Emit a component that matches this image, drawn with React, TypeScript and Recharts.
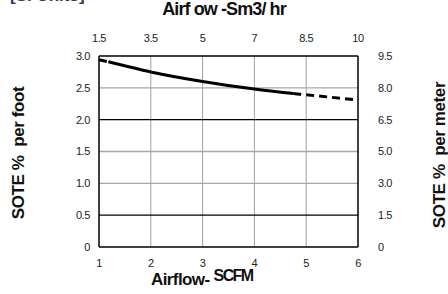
import React from 'react'
import { LineChart, Line, XAxis, YAxis, ReferenceLine } from 'recharts'

const airflowScfm = [1, 1.18, 2, 3, 4, 4.75, 5, 6]
const soteSolid = [null, 2.91, 2.75, 2.6, 2.48, 2.41, null, null]
const soteDashed = [2.94, 2.91, null, null, null, 2.41, 2.39, 2.31]

const bottomTicks = [1, 2, 3, 4, 5, 6]
const topTickLabels = ['1.5', '3.5', '5', '7', '8.5', '10']
const leftTicks = [0, 0.5, 1, 1.5, 2, 2.5, 3]
const leftTickLabels = ['0', '0.5', '1.0', '1.5', '2.0', '2.5', '3.0']
const rightTickLabels = ['0', '1.5', '3.0', '5.0', '6.5', '8.0', '9.5']
const grayRows = [1, 1.5, 2.5]
const blackRows = [0.5, 2]

const data = airflowScfm.map((x, i) => ({ x, solid: soteSolid[i], dashed: soteDashed[i] }))

const font = '"Liberation Sans", Arial, sans-serif'
const tickStyle = { fontSize: 11, fill: '#222', fontFamily: font, letterSpacing: -0.4 }
const titleStyle: React.CSSProperties = { position: 'absolute', whiteSpace: 'nowrap', fontWeight: 'bold', color: '#111' }

const App: React.FC = () => {
  return (
    <div style={{ position: 'absolute', left: 0, top: 0, width: 448, height: 294, overflow: 'hidden', fontFamily: font }}>
      <div style={{ position: 'absolute', left: 10, top: -14, fontSize: 17, fontWeight: 'bold', color: '#2d3e50' }}>
        [SI Units]
      </div>
      <div style={{ ...titleStyle, left: 0, width: 448, top: -1, textAlign: 'center', fontSize: 18, letterSpacing: -0.9 }}>
        Airf ow -Sm3/ hr
      </div>
      <LineChart width={448} height={294} data={data} margin={{ top: 0, right: 0, left: 0, bottom: 0 }}>
        {bottomTicks.slice(1, -1).map((v) => (
          <ReferenceLine key={'v' + v} xAxisId="bottom" yAxisId="left" x={v} stroke="#a0a0a0" strokeWidth={1} />
        ))}
        {grayRows.map((v) => (
          <ReferenceLine key={'g' + v} xAxisId="bottom" yAxisId="left" y={v} stroke="#a8a8a8" strokeWidth={1.3} />
        ))}
        {blackRows.map((v) => (
          <ReferenceLine key={'b' + v} xAxisId="bottom" yAxisId="left" y={v} stroke="#000" strokeWidth={1.2} />
        ))}
        <XAxis
          xAxisId="bottom"
          dataKey="x"
          type="number"
          domain={[1, 6]}
          ticks={bottomTicks}
          height={47}
          tickSize={0}
          tickMargin={12}
          tickLine={false}
          axisLine={{ stroke: '#000', strokeWidth: 1.5 }}
          tick={tickStyle}
        />
        <XAxis
          xAxisId="top"
          orientation="top"
          dataKey="x"
          type="number"
          domain={[1, 6]}
          ticks={bottomTicks}
          tickFormatter={(v: number) => topTickLabels[bottomTicks.indexOf(v)]}
          height={56}
          tickSize={0}
          tickMargin={14}
          tickLine={false}
          axisLine={{ stroke: '#000', strokeWidth: 1.5 }}
          tick={tickStyle}
        />
        <YAxis
          yAxisId="left"
          type="number"
          domain={[0, 3]}
          ticks={leftTicks}
          tickFormatter={(v: number) => leftTickLabels[leftTicks.indexOf(v)]}
          width={99}
          tickSize={0}
          tickMargin={9}
          tickLine={false}
          axisLine={{ stroke: '#000', strokeWidth: 1.5 }}
          tick={tickStyle}
        />
        <YAxis
          yAxisId="right"
          orientation="right"
          type="number"
          domain={[0, 3]}
          allowDataOverflow
          ticks={leftTicks}
          tickFormatter={(v: number) => rightTickLabels[leftTicks.indexOf(v)]}
          width={90}
          tickSize={0}
          tickMargin={20}
          tickLine={false}
          axisLine={{ stroke: '#000', strokeWidth: 1.5 }}
          tick={tickStyle}
        />
        <Line
          xAxisId="bottom"
          yAxisId="right"
          dataKey="dashed"
          stroke="none"
          dot={false}
          isAnimationActive={false}
        />
        <Line
          xAxisId="bottom"
          yAxisId="left"
          type="monotone"
          dataKey="solid"
          stroke="#000"
          strokeWidth={3}
          dot={false}
          isAnimationActive={false}
        />
        <Line
          xAxisId="bottom"
          yAxisId="left"
          type="monotone"
          dataKey="dashed"
          stroke="#000"
          strokeWidth={3}
          strokeDasharray="8 5"
          dot={false}
          isAnimationActive={false}
        />
      </LineChart>
      <div style={{ ...titleStyle, left: 19, top: 153, transform: 'translate(-50%, -50%) rotate(-90deg)', fontSize: 17, letterSpacing: -0.4 }}>
        SOTE % &nbsp;per foot
      </div>
      <div style={{ ...titleStyle, left: 440, top: 155, transform: 'translate(-50%, -50%) rotate(-90deg)', fontSize: 17, letterSpacing: -0.4 }}>
        SOTE % &nbsp;per meter
      </div>
      <div style={{ ...titleStyle, left: 151, top: 270, fontSize: 17, letterSpacing: -0.6 }}>
        Airflow- <span style={{ position: 'relative', top: -4, fontSize: 16, letterSpacing: -1.6 }}>SCFM</span>
      </div>
    </div>
  )
}

export default App
